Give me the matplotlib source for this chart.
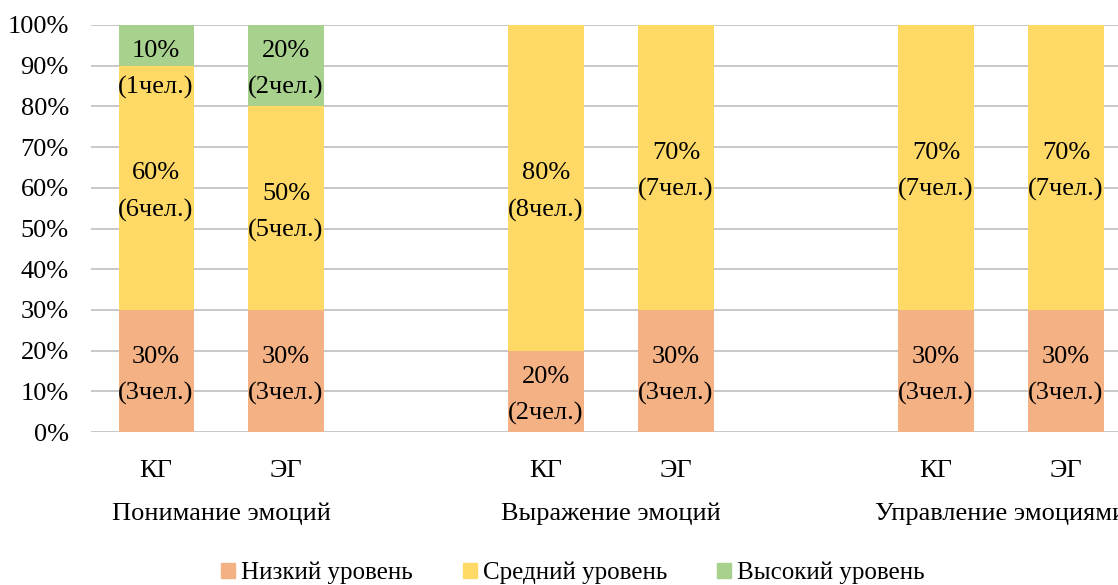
import numpy as np
import matplotlib.pyplot as plt
from matplotlib.transforms import blended_transform_factory
from matplotlib.patches import Patch

plt.rcParams['font.family'] = ['Liberation Serif', 'DejaVu Serif']

groups = ['Понимание эмоций', 'Выражение эмоций', 'Управление эмоциями']
bar_labels = ['КГ', 'ЭГ', 'КГ', 'ЭГ', 'КГ', 'ЭГ']
levels = ['Низкий уровень', 'Средний уровень', 'Высокий уровень']
low = [30, 30, 20, 30, 30, 30]
mid = [60, 50, 80, 70, 70, 70]
high = [10, 20, 0, 0, 0, 0]
people_per_pct = 0.1  # 10 человек в группе
colors = ['#F4B183', '#FFD966', '#A9D18E']

x = np.array([0, 1, 3, 4, 6, 7])
fs = 19

fig = plt.figure(figsize=(11.18, 5.85), dpi=100)
ax = fig.add_axes([0.0814, 0.2615, 0.9186, 0.6958])

bottom = np.zeros(len(x))
for vals, col in zip([low, mid, high], colors):
    vals = np.array(vals, dtype=float)
    ax.bar(x, vals, bottom=bottom, width=0.577, color=col, zorder=2)
    for xi, b, v in zip(x, bottom, vals):
        if v <= 0:
            continue
        top = b + v
        y = min(b + v / 2, top - 10)
        ax.annotate(f'{int(v)}%\n({int(round(v * people_per_pct))}чел.)',
                    (xi, y), xytext=(0, -3), textcoords='offset points',
                    ha='center', va='center', fontsize=fs, linespacing=1.8,
                    color='black', zorder=3)
    bottom += vals

ax.set_ylim(0, 100)
ax.set_xlim(-0.5, 7.40)
ax.set_yticks(np.arange(0, 101, 10))
ax.set_yticklabels([f'{v}%' for v in range(0, 101, 10)], fontsize=fs)
ax.set_xticks(x)
ax.set_xticklabels(bar_labels, fontsize=fs)
ax.tick_params(axis='both', length=0, labelcolor='black')
ax.tick_params(axis='y', pad=16)
ax.tick_params(axis='x', pad=20)
ax.grid(axis='y', color='#BFBFBF', linewidth=1.2, zorder=0)
for s in ax.spines.values():
    s.set_visible(False)

trans = blended_transform_factory(ax.transData, fig.transFigure)
for i, g in enumerate(groups):
    ax.text(x[2 * i] + 0.5, 1 - 514 / 585, g, transform=trans,
            ha='center', va='center', fontsize=fs, clip_on=False)

handles = [Patch(color=c) for c in colors]
fig.legend(handles, levels, loc='center', bbox_to_anchor=(573 / 1118, 1 - 573 / 585),
           ncol=3, frameon=False, fontsize=18, handlelength=0.55, handleheight=0.55,
           columnspacing=2.0, handletextpad=0.25)

fig.savefig('out.png', dpi=100)
